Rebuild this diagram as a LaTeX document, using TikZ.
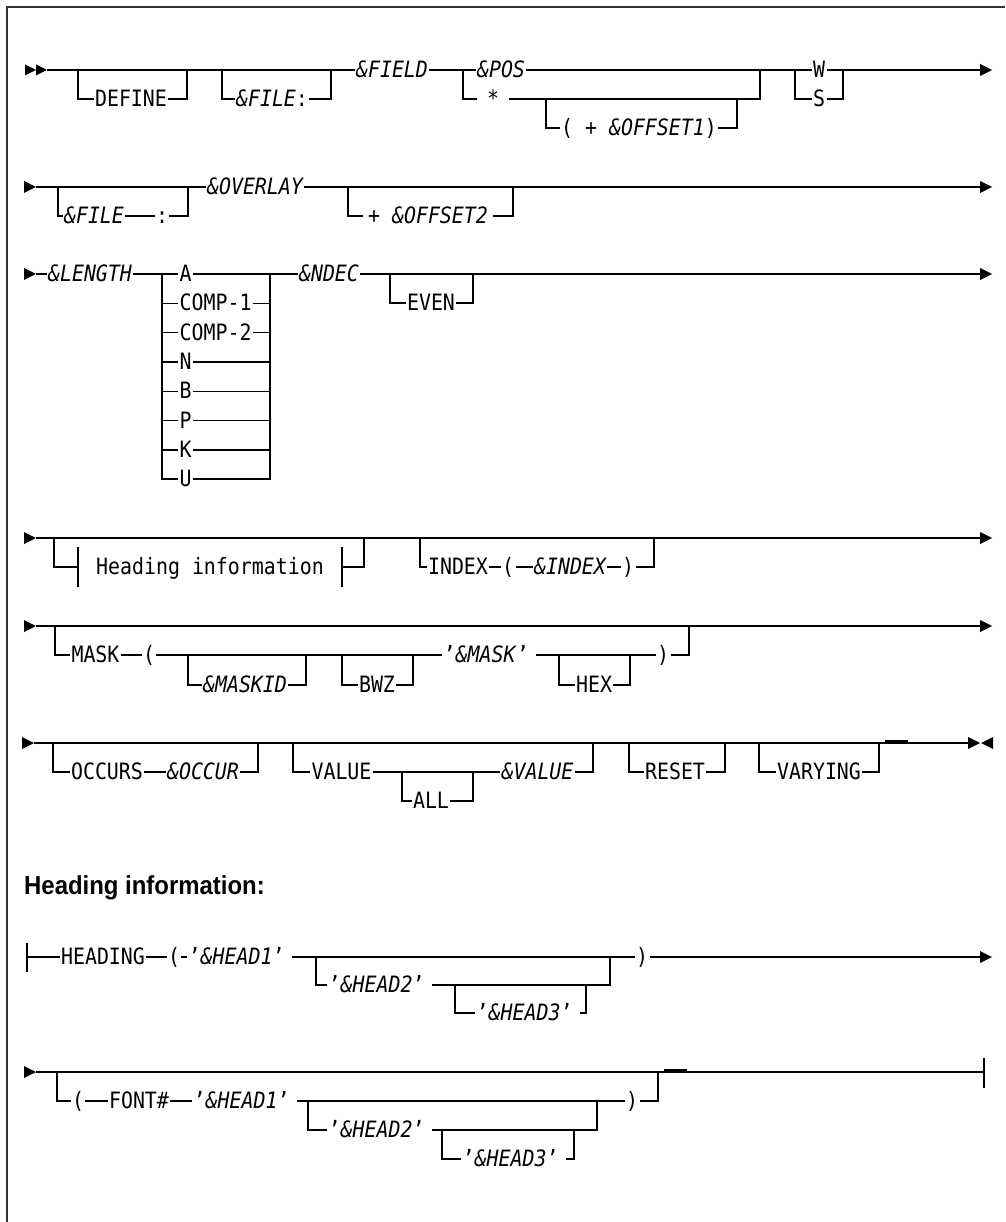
\documentclass[tikz,border=0pt]{standalone}
\usepackage{fontspec}
\newfontfamily\dg[FakeStretch=0.885]{DejaVu Sans Mono}
\newfontfamily\hd[FakeStretch=0.92]{Liberation Sans}
\newcommand{\railopt}[4]{\draw[ln] (#1,#3) -- (#1,#4) -- (#2,#4) -- (#2,#3);}
\newcommand{\rarr}[2]{\fill (#1,#2-6) -- (#1+12,#2) -- (#1,#2+6) -- cycle;}
\begin{document}
\begin{tikzpicture}[x=1pt,y=-1pt,
  ln/.style={line width=1.4pt},
  kw/.style={font={\dg\fontsize{22.5}{26}\selectfont}, fill=white, inner xsep=1.5pt, inner ysep=0.5pt, text height=16pt, text depth=1pt},
  it/.style={kw, font={\dg\fontsize{22.5}{26}\selectfont\itshape}},
  gap/.style={inner xsep=10pt}]
\useasboundingbox (0,0) rectangle (1005,1222);
% frame
\draw[line width=2.2pt, black!80] (7,1222) -- (7,7) -- (1005,7);

% ---------------- Row 1 ----------------
\fill (25,64.5) -- (36,70) -- (25,75.5) -- cycle;
\fill (36,64.5) -- (47,70) -- (36,75.5) -- cycle;
\draw[ln] (47,70) -- (980,70);
\rarr{980}{70}
\railopt{78}{187}{70}{99}
\railopt{222}{331}{70}{99}
\railopt{463}{760}{70}{99}
\railopt{546}{737}{99}{128}
\railopt{795}{843}{70}{99}
\node[kw] (define) at (131,99) {DEFINE};
\node[kw] (file1) at (272,99) {\textit{\&FILE}:};
\node[it] (field) at (392,70) {\&FIELD};
\node[it] (pos) at (501,70) {\&POS};
\node[kw,gap] (star) at (493,99) {*};
\node[kw] (off1) at (639,128) {( + \textit{\&OFFSET1})};
\node[kw] (w) at (819,70) {W};
\node[kw] (s) at (819,99) {S};

% ---------------- Row 2 ----------------
\rarr{24}{187}
\draw[ln] (36,187) -- (980,187);
\rarr{980}{187}
\railopt{58}{188}{187}{216}
\railopt{348}{513}{187}{216}
\node[it] (file2) at (94,216) {\&FILE};
\node[kw] (colon2) at (162,216) {:};
\node[it] (overlay) at (255,187) {\&OVERLAY};
\node[kw, inner xsep=5pt] (off2) at (428,216) {+ \textit{\&OFFSET2}};

% ---------------- Row 3 ----------------
\rarr{24}{274}
\draw[ln] (36,274) -- (980,274);
\rarr{980}{274}
\draw[ln] (162,274) -- (162,479) -- (270,479) -- (270,274);
\foreach \k in {1,...,6} {\draw[ln] (162,274+29.3*\k) -- (270,274+29.3*\k);}
\node[it] (length) at (90,274) {\&LENGTH};
\node[kw, anchor=west] (ta) at (178,274) {A};
\node[kw, anchor=west] (tc1) at (178,303.3) {COMP-1};
\node[kw, anchor=west] (tc2) at (178,332.6) {COMP-2};
\node[kw, anchor=west] (tn) at (178,361.9) {N};
\node[kw, anchor=west] (tb) at (178,391.2) {B};
\node[kw, anchor=west] (tp) at (178,420.5) {P};
\node[kw, anchor=west] (tk) at (178,449.8) {K};
\node[kw, anchor=west] (tu) at (178,479) {U};
\node[it] (ndec) at (329,274) {\&NDEC};
\railopt{390}{473}{274}{303}
\node[kw] (even) at (431,303) {EVEN};

% ---------------- Row 4 ----------------
\rarr{24}{538}
\draw[ln] (36,538) -- (980,538);
\rarr{980}{538}
\draw[ln] (54,538) -- (54,567) -- (78,567);
\draw[ln] (78,547) -- (78,587);
\draw[ln] (342,547) -- (342,587);
\draw[ln] (342,567) -- (364,567) -- (364,538);
\node[kw, fill=none] (headref) at (210,567) {Heading information};
\railopt{420}{654}{538}{567}
\node[kw] (index) at (458,567) {INDEX};
\node[kw] (ip1) at (508,567) {(};
\node[it] (indexv) at (570,567) {\&INDEX};
\node[kw] (ip2) at (628,567) {)};

% ---------------- Row 5 ----------------
\rarr{24}{626}
\draw[ln] (36,626) -- (980,626);
\rarr{980}{626}
\railopt{55}{689}{626}{655}
\railopt{188}{306}{655}{685}
\railopt{342}{413}{655}{685}
\railopt{559}{630}{655}{685}
\node[kw] (mask) at (95.5,655) {MASK};
\node[kw] (mp1) at (149,655) {(};
\node[it] (maskid) at (245,685) {\&MASKID};
\node[kw] (bwz) at (377,685) {BWZ};
\node[kw, anchor=west] (maskv) at (442,655) {’\textit{\&MASK}’\hspace*{6pt}};
\node[kw] (hex) at (594,685) {HEX};
\node[kw] (mp2) at (663,655) {)};

% ---------------- Row 6 ----------------
\rarr{22}{743}
\draw[ln] (34,743) -- (968,743);
\fill (968,737) -- (980,743) -- (968,749) -- cycle;
\fill (993,737) -- (981,743) -- (993,749) -- cycle;
\railopt{53}{258}{743}{772}
\railopt{293}{593}{743}{772}
\railopt{402}{473}{772}{801}
\railopt{629}{725}{743}{772}
\railopt{759}{879}{743}{772}
\draw[line width=2.6pt] (885,741.5) -- (908,741.5);
\node[kw] (occurs) at (107,772) {OCCURS};
\node[it] (occur) at (203,772) {\&OCCUR};
\node[kw] (value) at (341.5,772) {VALUE};
\node[kw] (all) at (431,801) {ALL};
\node[it] (valuev) at (537.5,772) {\&VALUE};
\node[kw] (reset) at (675,772) {RESET};
\node[kw] (varying) at (819,772) {VARYING};

% ---------------- Title ----------------
\node[anchor=west, font={\hd\bfseries\fontsize{26}{30}\selectfont}, inner sep=0pt] (title) at (24,888) {Heading information:};

% ---------------- Row 7 ----------------
\draw[ln] (27,943) -- (27,972);
\draw[ln] (27,957) -- (980,957);
\rarr{980}{957}
\railopt{316}{610}{957}{985}
\railopt{455}{586}{985}{1013}
\node[kw] (heading) at (103,957) {HEADING};
\node[kw] (hp1) at (174,957) {(};
\node[kw, anchor=west] (h1a) at (187,957) {’\textit{\&HEAD1}’\hspace*{6pt}};
\node[kw, anchor=west] (h2a) at (327,985) {’\textit{\&HEAD2}’\hspace*{6pt}};
\node[kw, anchor=west] (h3a) at (475,1013) {’\textit{\&HEAD3}’\hspace*{6pt}};
\node[kw] (hp2) at (642,957) {)};

% ---------------- Row 8 ----------------
\rarr{24}{1072}
\draw[ln] (36,1072) -- (984,1072);
\draw[ln] (984,1058) -- (984,1088);
\railopt{57}{658}{1072}{1101}
\railopt{308}{597}{1101}{1130}
\railopt{442}{574}{1130}{1159}
\draw[line width=2.6pt] (664,1070.5) -- (687,1070.5);
\node[kw] (fp1) at (78,1101) {(};
\node[kw] (font) at (139,1101) {FONT\#};
\node[kw, anchor=west] (h1b) at (192,1101) {’\textit{\&HEAD1}’\hspace*{6pt}};
\node[kw, anchor=west] (h2b) at (327,1130) {’\textit{\&HEAD2}’\hspace*{6pt}};
\node[kw, anchor=west] (h3b) at (461,1159) {’\textit{\&HEAD3}’\hspace*{6pt}};
\node[kw] (fp2) at (632,1101) {)};
\end{tikzpicture}
\end{document}
